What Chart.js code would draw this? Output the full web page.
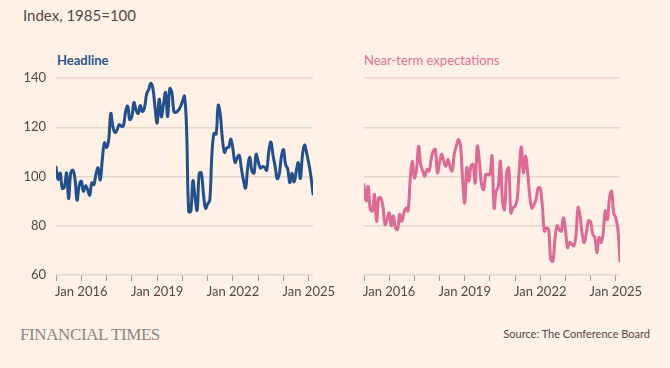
<!DOCTYPE html>
<html><head><meta charset="utf-8">
<script src="https://cdn.jsdelivr.net/npm/chart.js@4/dist/chart.umd.min.js"></script>
<style>
html,body{margin:0;padding:0;}
body{width:670px;height:368px;background:#fff1e5;position:relative;overflow:hidden;font-family:Lato,sans-serif;}
.t{position:absolute;white-space:nowrap;}
canvas{position:absolute;}
</style></head><body>
<div class="t" style="left:23px;top:6px;font-size:15px;color:#4f4a47;">Index, 1985=100</div>
<div class="t" style="left:57px;top:52px;font-size:13px;font-weight:700;color:#2a5597;">Headline</div>
<div class="t" style="left:364px;top:52px;font-size:13px;font-weight:400;color:#e0709b;">Near-term expectations</div>
<canvas id="c1" width="345" height="240" style="left:0;top:60px;"></canvas>
<canvas id="c2" width="320" height="240" style="left:340px;top:60px;"></canvas>
<div class="t" style="left:20px;top:325px;font-family:'Liberation Serif',serif;font-size:17px;color:#8c8480;letter-spacing:-0.4px;">FINANCIAL TIMES</div>
<div class="t" style="right:20px;top:327px;font-size:11px;color:#4f4a47;">Source: The Conference Board</div>
<script>
const startYear = 2015;
const headline = [
103.8,98.8,101.4,95.2,95.8,101.4,91.0,101.5,102.6,99.1,90.4,96.3,
98.1,94.0,96.2,94.7,92.4,97.4,96.7,101.1,103.5,98.6,107.1,113.7,
111.8,114.8,125.6,120.3,117.9,118.9,121.1,120.4,120.6,126.2,128.6,123.1,
124.3,130.0,127.0,125.6,128.8,126.4,127.9,133.4,135.3,137.9,135.7,128.1,
121.7,131.4,124.2,129.2,134.1,124.3,135.7,134.2,126.3,126.1,126.8,128.2,
130.4,132.6,118.8,85.7,85.9,98.3,91.7,86.3,101.3,101.4,92.9,87.1,
88.9,90.4,109.0,117.5,117.2,128.9,125.1,115.2,109.8,111.6,111.9,115.2,
111.1,105.7,107.6,108.6,103.2,98.4,95.3,103.6,107.8,102.2,101.4,109.0,
106.0,103.4,104.0,103.7,102.5,110.1,114.0,108.7,104.3,99.1,101.0,108.0,
110.9,104.8,103.1,97.5,101.3,97.8,101.9,105.6,99.2,108.7,112.8,109.5,
105.3,100.1,92.9];
const expectations = [
96.7,90.0,96.0,86.6,86.0,92.7,81.8,91.3,91.3,88.0,80.5,82.5,
85.2,80.0,84.0,79.1,78.5,84.6,81.8,85.2,87.2,86.0,98.8,106.2,
99.4,102.8,112.3,104.9,102.2,100.1,102.8,102.2,106.9,110.3,111.0,101.5,
105.6,109.0,106.2,104.2,106.9,104.2,102.2,109.0,112.3,115.0,112.3,98.8,
89.3,103.5,98.1,104.2,104.9,97.4,112.3,106.2,96.7,94.7,100.8,100.8,
100.8,108.3,87.2,94.0,96.0,106.2,90.0,86.6,101.5,103.5,85.2,87.2,
88.0,90.7,102.8,112.0,101.5,108.3,101.5,92.0,87.2,88.6,90.7,95.3,
95.3,88.0,77.8,79.1,78.5,66.3,65.6,74.5,80.0,78.5,77.8,83.2,
78.5,71.1,73.2,72.5,71.8,75.9,87.4,84.0,76.6,73.2,77.2,82.0,
81.6,76.6,75.2,69.0,75.2,73.2,77.2,86.0,82.5,91.3,94.0,85.2,
83.2,78.5,65.6];
const yTicks = [60,80,100,120,140];
const xTickYears = [2015,2016,2017,2018,2019,2020,2021,2022,2023,2024,2025];
const xLabelYears = [2016,2019,2022,2025];

Chart.defaults.font.family = 'Lato, sans-serif';

function pts(arr){ return arr.map((v,i)=>({x:startYear + i/12, y:v})); }

function makeChart(id, data, color, showY, yWidth, padRight){
  new Chart(document.getElementById(id), {
    type:'line',
    data:{datasets:[{data:pts(data), borderColor:color, borderWidth:3, pointRadius:0, tension:0.4, fill:false, borderCapStyle:'round', borderJoinStyle:'round'}]},
    options:{
      responsive:false, animation:false, devicePixelRatio:1,
      layout:{padding:{top:18,right:padRight,left:0,bottom:0}},
      plugins:{legend:{display:false},tooltip:{enabled:false}},
      scales:{
        x:{type:'linear', min:startYear, max:2025+2/12,
          afterBuildTicks:s=>{s.ticks = xTickYears.map(v=>({value:v}));},
          afterFit:s=>{s.height=25;},
          border:{display:false},
          grid:{drawOnChartArea:false, tickLength:6, color:'#a39b94', lineWidth:1},
          ticks:{autoSkip:false, maxRotation:0, padding:3, color:'#4f4a47', font:{size:13},
            callback:v=> xLabelYears.includes(v) ? 'Jan '+v : ''}
        },
        y:{min:60, max:140,
          afterBuildTicks:s=>{s.ticks = yTicks.map(v=>({value:v}));},
          afterFit:s=>{s.width=yWidth;},
          border:{display:false},
          grid:{color:'#e2d7cb', lineWidth:1.5, drawTicks:false},
          ticks:{display:showY, padding:10, color:'#4f4a47', font:{size:13}}
        }
      }
    }
  });
}
makeChart('c1', headline, '#22508f', true, 56, 32);
makeChart('c2', expectations, '#dd6994', false, 24, 40);
</script>
</body></html>
